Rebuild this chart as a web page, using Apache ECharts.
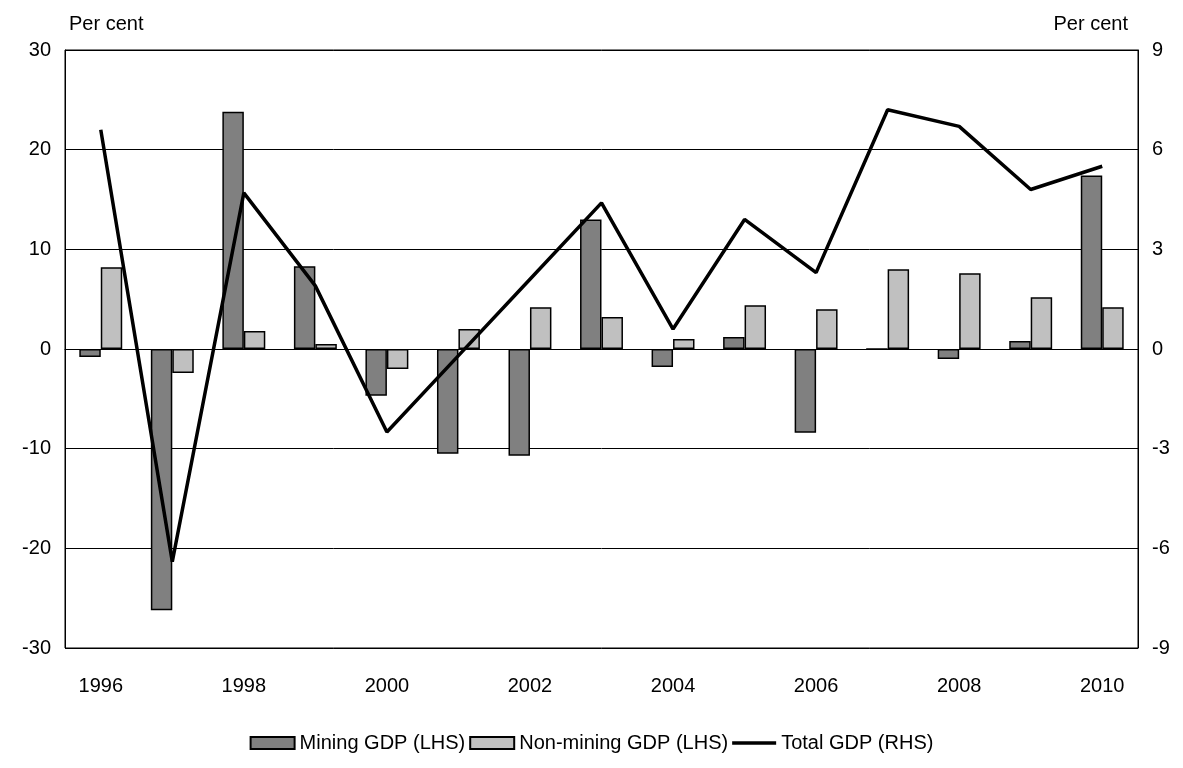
<html>
<head>
<meta charset="UTF-8">
<script src="https://cdn.jsdelivr.net/npm/echarts@6/dist/echarts.min.js"></script>
</head>
<body style="margin:0;background:#fff">
<div id="main" style="width:1183px;height:768px;"></div>
<script>
var years = ['1996','1997','1998','1999','2000','2001','2002','2003','2004','2005','2006','2007','2008','2009','2010'];
var mining = [-0.8, -26.2, 23.8, 8.3, -4.7, -10.5, -10.7, 13, -1.8, 1.2, -8.4, 0, -1, 0.8, 17.4];
var nonMining = [8.2, -2.4, 1.8, 0.5, -2, 2, 4.2, 3.2, 1, 4.4, 4, 8, 7.6, 5.2, 4.2];
var total = [6.6, -6.4, 4.7, 1.9, -2.5, -0.2, 2.1, 4.4, 0.6, 3.9, 2.3, 7.2, 6.7, 4.8, 5.5];

var font = 'Liberation Sans, Arial, sans-serif';
var chart = echarts.init(document.getElementById('main'));
var baseX = {type: 'category', data: years, boundaryGap: true};
chart.setOption({
  animation: false,
  textStyle: {fontFamily: font},
  grid: {left: 65, right: 45, top: 50, bottom: 120, show: true, borderColor: '#000', borderWidth: 1},
  legend: {
    bottom: 10, itemGap: 4, itemWidth: 44, itemHeight: 12,
    textStyle: {fontSize: 20, color: '#000', fontFamily: font},
    data: [
      {name: 'Mining GDP (LHS)', icon: 'rect'},
      {name: 'Non-mining GDP (LHS)', icon: 'rect'},
      {name: 'Total GDP (RHS)', icon: 'path://M0,0H40V3H0Z', itemStyle: {borderWidth: 0}}
    ]
  },
  xAxis: [
    Object.assign({}, baseX, {position: 'bottom', axisLine: {onZero: false, show: false}, axisTick: {show: false},
      axisLabel: {interval: 1, fontSize: 20, color: '#000', margin: 28}}),
    Object.assign({}, baseX, {position: 'bottom', axisLine: {onZero: true, lineStyle: {color: '#000'}},
      axisTick: {interval: 1, length: 7, lineStyle: {color: '#666'}}, axisLabel: {show: false}}),
    Object.assign({}, baseX, {position: 'bottom', axisLine: {show: false},
      axisTick: {interval: 1, inside: true, length: 7, lineStyle: {color: '#666'}}, axisLabel: {show: false}})
  ],
  yAxis: [
    {type: 'value', min: -30, max: 30, interval: 10, name: 'Per cent', nameGap: 16,
      nameTextStyle: {fontSize: 20, color: '#000', align: 'left', padding: [0, 0, 0, 4]},
      axisLine: {show: true, lineStyle: {color: '#000'}}, axisTick: {show: true, inside: true, length: 6, lineStyle: {color: '#000'}},
      axisLabel: {fontSize: 20, color: '#000', margin: 14},
      splitLine: {lineStyle: {color: '#000', width: 1}}},
    {type: 'value', min: -9, max: 9, interval: 3, name: 'Per cent', nameGap: 16,
      nameTextStyle: {fontSize: 20, color: '#000', align: 'right', padding: [0, 10, 0, 0]},
      axisLine: {show: true, lineStyle: {color: '#000'}}, axisTick: {show: true, inside: true, length: 6, lineStyle: {color: '#000'}},
      axisLabel: {fontSize: 20, color: '#000', margin: 14}, splitLine: {show: false}}
  ],
  series: [
    {name: 'Mining GDP (LHS)', type: 'bar', data: mining, barGap: '0%', barCategoryGap: '40%',
      itemStyle: {color: '#808080', borderColor: '#000', borderWidth: 1.5}},
    {name: 'Non-mining GDP (LHS)', type: 'bar', data: nonMining,
      itemStyle: {color: '#c0c0c0', borderColor: '#000', borderWidth: 1.5}},
    {name: 'Total GDP (RHS)', type: 'line', yAxisIndex: 1, data: total, symbol: 'none', z: 5,
      lineStyle: {color: '#000', width: 3.5}, itemStyle: {color: '#000'}}
  ]
});
</script>
</body>
</html>
